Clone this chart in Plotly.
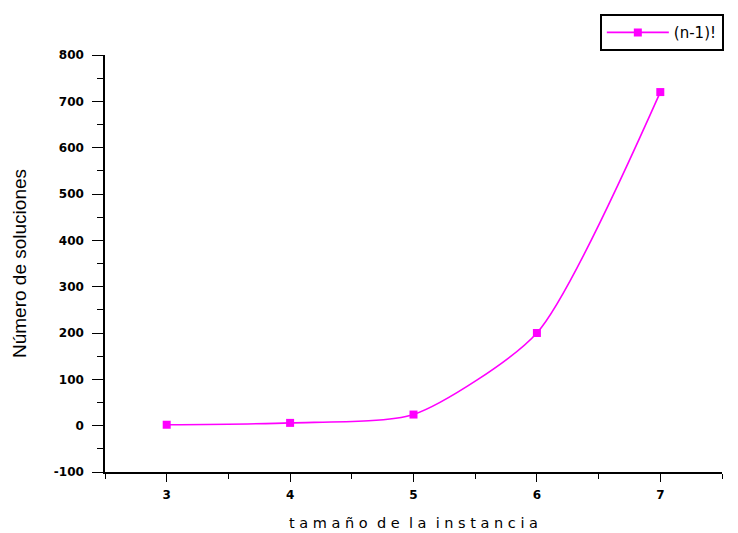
import plotly.graph_objects as go

# instance size vs number of solutions
tamano = [3, 4, 5, 6, 7]
soluciones = [2, 6, 24, 200, 720]
serie = "(n-1)!"

x_ticks = [3, 4, 5, 6, 7]
y_ticks = [-100, 0, 100, 200, 300, 400, 500, 600, 700, 800]

fig = go.Figure()
fig.add_trace(go.Scatter(
    x=tamano, y=soluciones, name=serie,
    mode="lines+markers",
    line=dict(color="#FF00FF", width=1.6, shape="spline", smoothing=0.65),
    marker=dict(symbol="square", size=8, color="#FF00FF"),
))

tick_font = dict(family="DejaVu Sans, Arial, sans-serif", size=12, color="black", weight="bold")

fig.update_layout(
    width=738, height=533,
    margin=dict(l=105, r=16, t=55, b=61, autoexpand=False),
    paper_bgcolor="white", plot_bgcolor="white",
    showlegend=True,
    legend=dict(
        x=0.802, y=1.098, xanchor="left", yanchor="top",
        bordercolor="black", borderwidth=2, bgcolor="white",
        font=dict(family="DejaVu Sans, Arial, sans-serif", size=15, color="black"),
        itemwidth=62, tracegroupgap=0,
    ),
    xaxis=dict(
        range=[2.5, 7.5], tickvals=x_ticks, ticktext=[str(v) for v in x_ticks],
        automargin=False,
        showgrid=False, zeroline=False, showline=True, linecolor="black", linewidth=1.5,
        ticks="outside", ticklen=8, tickwidth=1.3, tickcolor="black",
        minor=dict(dtick=0.5, tick0=2.5, ticks="outside", ticklen=5, tickwidth=1.3, tickcolor="black"),
        tickfont=tick_font, ticklabelstandoff=3,
        title=dict(text="t a m a ñ o  d e  l a  i n s t a n c i a",
                   font=dict(family="DejaVu Sans, Arial, sans-serif", size=14.5, color="black"),
                   standoff=17),
    ),
    yaxis=dict(
        range=[-100, 800], tickvals=y_ticks, ticktext=[str(v) for v in y_ticks],
        automargin=False,
        showgrid=False, zeroline=False, showline=True, linecolor="black", linewidth=1.5,
        ticks="outside", ticklen=11, tickwidth=1.3, tickcolor="black",
        minor=dict(dtick=50, tick0=-100, ticks="outside", ticklen=6, tickwidth=1.3, tickcolor="black"),
        tickfont=tick_font, ticklabelstandoff=6,
        title=dict(text="Número de soluciones",
                   font=dict(family="Liberation Sans, Arial, sans-serif", size=19, color="black"),
                   standoff=22),
    ),
)

fig.write_html("out.html")
